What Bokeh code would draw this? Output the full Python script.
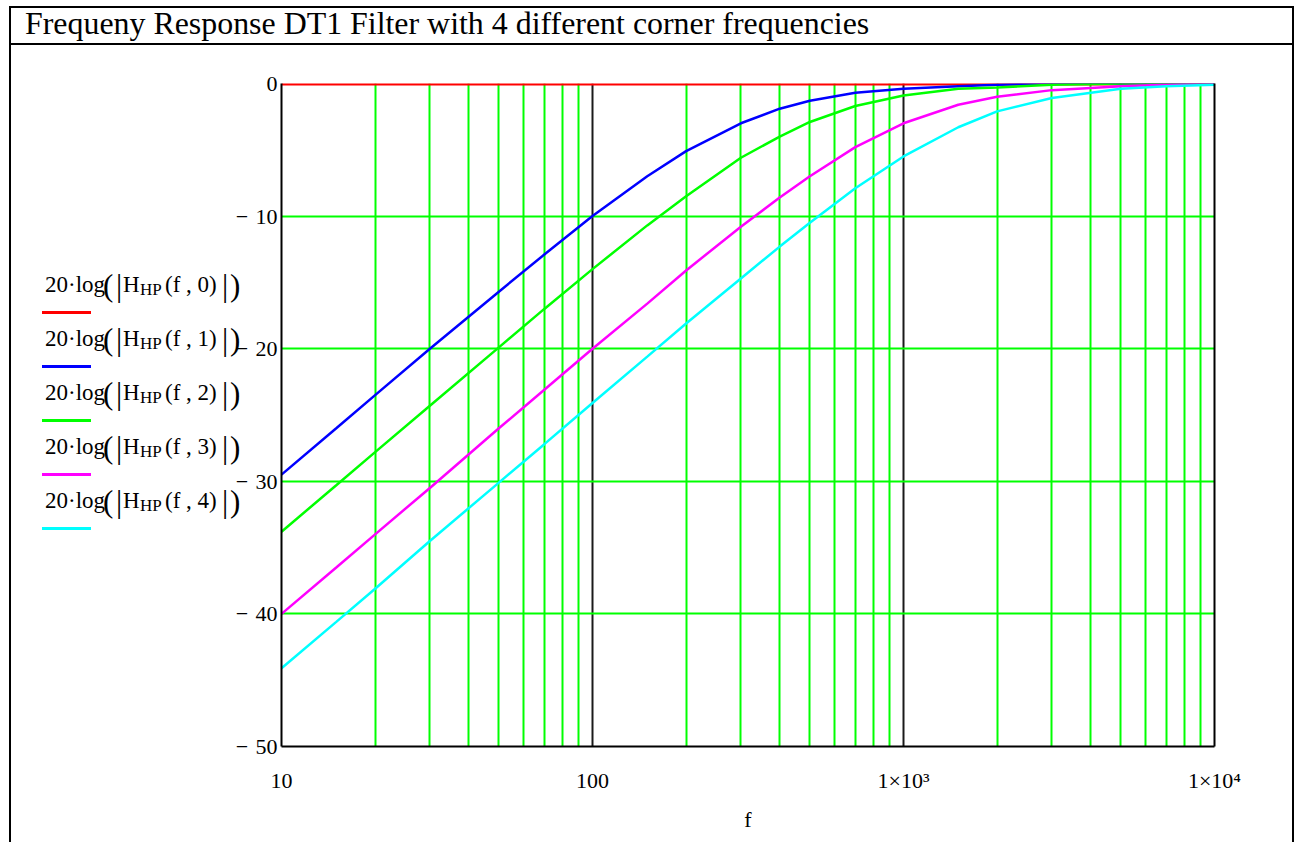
from bokeh.plotting import figure
from bokeh.models import Range1d, FixedTicker, LinearAxis, Div
from bokeh.layouts import column, row
from bokeh.embed import file_html
from bokeh.resources import INLINE

# ---------------- data ----------------
freq = [10, 15, 20, 30, 50, 70, 100, 150, 200, 300, 400, 500, 700,
        1000, 1500, 2000, 3000, 5000, 7000, 10000]
h0 = [0.0, 0.0, 0.0, 0.0, 0.0, 0.0, 0.0, 0.0, 0.0, 0.0, 0.0, 0.0, 0.0,
      0.0, 0.0, 0.0, 0.0, 0.0, 0.0, 0.0]
h1 = [-29.5, -26.0, -23.5, -20.0, -15.7, -12.9, -10.0, -7.0, -5.1, -3.0, -1.9, -1.3, -0.7,
      -0.4, -0.2, -0.1, 0.0, 0.0, 0.0, 0.0]
h2 = [-33.8, -30.3, -27.8, -24.3, -19.9, -17.0, -14.0, -10.7, -8.5, -5.6, -4.0, -2.9, -1.7,
      -0.9, -0.4, -0.3, -0.1, 0.0, 0.0, 0.0]
h3 = [-40.0, -36.5, -34.0, -30.5, -26.0, -23.1, -20.0, -16.6, -14.1, -10.8, -8.6, -7.0, -4.8,
      -3.0, -1.6, -1.0, -0.5, -0.2, -0.1, 0.0]
h4 = [-44.1, -40.6, -38.1, -34.5, -30.1, -27.2, -24.1, -20.6, -18.1, -14.7, -12.3, -10.5, -7.9,
      -5.5, -3.3, -2.1, -1.1, -0.4, -0.2, -0.1]

series = [h0, h1, h2, h3, h4]
series_index = ["0", "1", "2", "3", "4"]
colors = ["#FF0000", "#0000FF", "#00FF00", "#FF00FF", "#00FFFF"]

x_ticks = [10, 100, 1000, 10000]
x_tick_labels = ["10", "100", "1×10³", "1×10⁴"]
x_grid_major = [100, 1000]
x_grid_minor = [20, 30, 40, 50, 60, 70, 80, 90,
                200, 300, 400, 500, 600, 700, 800, 900,
                2000, 3000, 4000, 5000, 6000, 7000, 8000, 9000]
y_ticks = [0, -10, -20, -30, -40, -50]
y_tick_labels = ["0", "−\u200410", "−\u200420", "−\u200430", "−\u200440", "−\u200450"]
y_grid = [-10, -20, -30, -40]

title_text = "Frequeny Response DT1 Filter with 4 different corner frequencies"
x_label = "f"

# ---------------- layout (page pixels) ----------------
W, H = 1296, 842
TITLE_H = 45
LEG_W = 232
FL, FT, FW, FH = 280, 83, 934, 663
FONT = "'Liberation Serif', 'Times New Roman', serif"


def bar(x, y, w, h, c):
    return f"linear-gradient({c},{c}) {x}px {y}px / {w}px {h}px no-repeat"


deco = [bar(9, 6, 1285, 2, "#000"), bar(9, 43, 1285, 2, "#000"),
        bar(9, 6, 2, 836, "#000"), bar(1292, 6, 2, 836, "#000")]
for i, c in enumerate(colors):
    deco.append(bar(42, 311 + 54 * i, 49, 3, c))
background = ", ".join(deco) + ", white"


def span(x, baseline, text, fs, oy=0):
    top = baseline - 0.8375 * fs - oy
    return (f'<span style="position:absolute;left:{x}px;top:{top:.1f}px;'
            f'font-family:{FONT};font-size:{fs}px;line-height:1;white-space:nowrap;'
            f'color:#000;">{text}</span>')


# title bar
title_html = ('<div style="position:relative;width:%dpx;height:%dpx;overflow:visible;">' % (W, TITLE_H)
              + span(25, 35, title_text, 31.9) + '</div>')
title_div = Div(text=title_html, width=W, height=TITLE_H, margin=0,
                styles={"overflow": "visible"})

# legend
leg_parts = []
for i, idx in enumerate(series_index):
    ly = 313 + 54 * i
    base = ly - 21
    big = ly - 17
    leg_parts += [
        span(45, base, "20·log", 23, TITLE_H),
        span(103, big, "(", 31, TITLE_H),
        span(116, big, "|", 31, TITLE_H),
        span(123, base, "H", 23, TITLE_H),
        span(140, ly - 18, "HP", 17, TITLE_H),
        span(165, base, "(f , " + idx + ")", 23, TITLE_H),
        span(222, big, "|", 31, TITLE_H),
        span(230, big, ")", 31, TITLE_H),
    ]
leg_html = ('<div style="position:relative;width:%dpx;height:%dpx;overflow:visible;">' % (LEG_W, H - TITLE_H)
            + "".join(leg_parts) + '</div>')
legend_div = Div(text=leg_html, width=LEG_W, height=H - TITLE_H, margin=0,
                 styles={"overflow": "visible", "z-index": "2"})

# ---------------- figure ----------------
PW, PH = W - LEG_W, H - TITLE_H
p = figure(width=PW, height=PH, x_axis_type="log",
           x_range=Range1d(10, 10000), y_range=Range1d(-50, 0),
           output_backend="svg", toolbar_location=None,
           min_border_left=FL - LEG_W, min_border_right=W - FL - FW,
           min_border_top=FT - TITLE_H, min_border_bottom=PH - (FT - TITLE_H) - FH,
           margin=0)
p.background_fill_color = "white"
p.border_fill_color = None
p.outline_line_color = None

for ax in (p.xaxis[0], p.yaxis[0]):
    ax.axis_line_color = "black"
    ax.axis_line_width = 2
    ax.major_tick_line_color = None
    ax.minor_tick_line_color = None
    ax.major_tick_out = 0
    ax.major_tick_in = 0
    ax.minor_tick_out = 0
    ax.major_label_text_font = "Liberation Serif"
    ax.major_label_text_font_size = "22px"
    ax.major_label_text_color = "black"

p.xaxis.ticker = FixedTicker(ticks=x_ticks)
p.xaxis.major_label_overrides = dict(zip(x_ticks, x_tick_labels))
p.xaxis.major_label_standoff = 21
p.xaxis.axis_label = x_label
p.xaxis.axis_label_text_font = "Liberation Serif"
p.xaxis.axis_label_text_font_size = "22px"
p.xaxis.axis_label_text_font_style = "normal"
p.xaxis.axis_label_text_color = "black"
p.xaxis.axis_label_standoff = 11
p.yaxis.ticker = FixedTicker(ticks=y_ticks)
p.yaxis.major_label_overrides = dict(zip(y_ticks, y_tick_labels))
p.yaxis.major_label_standoff = 4

right = LinearAxis(ticker=FixedTicker(ticks=[]), axis_line_color="black", axis_line_width=2,
                   major_tick_line_color=None, minor_tick_line_color=None,
                   major_tick_out=0, major_tick_in=0, minor_tick_out=0,
                   major_label_text_font_size="0px")
p.add_layout(right, "right")

p.xgrid.ticker = FixedTicker(ticks=x_grid_major, minor_ticks=x_grid_minor)
p.xgrid.grid_line_color = "#1a1a1a"
p.xgrid.grid_line_width = 2
p.xgrid.grid_line_alpha = 1.0
p.xgrid.minor_grid_line_color = "#00FF00"
p.xgrid.minor_grid_line_width = 2
p.ygrid.ticker = FixedTicker(ticks=y_grid)
p.ygrid.grid_line_color = "#00FF00"
p.ygrid.grid_line_width = 2
p.ygrid.grid_line_alpha = 1.0

widths = [4, 2.5, 2.5, 2.5, 2.5]
for h, c, w in zip(series, colors, widths):
    p.line(freq, h, line_color=c, line_width=w)

layout = column(title_div, row(legend_div, p, spacing=0, margin=0),
                spacing=0, margin=0, styles={"background": background})

open("out.html", "w").write(file_html(layout, INLINE))
